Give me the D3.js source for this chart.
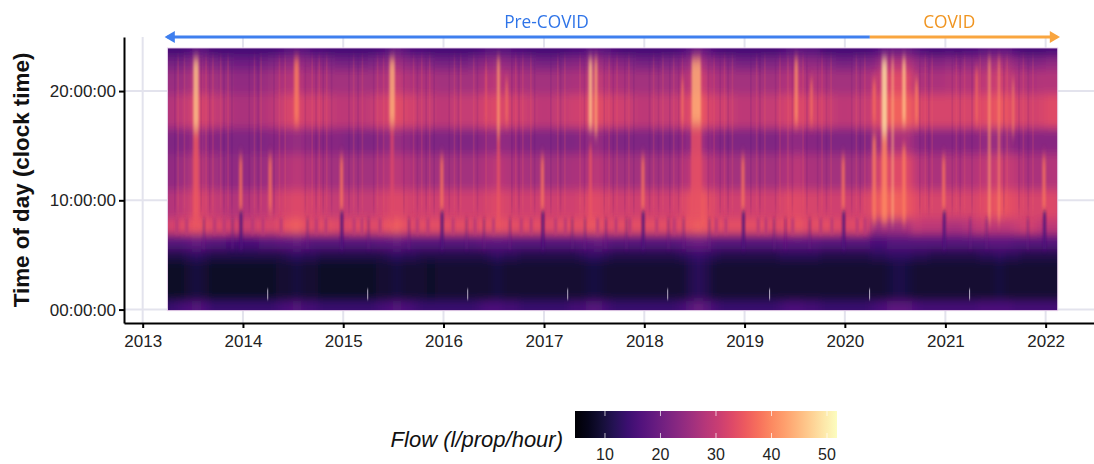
<!DOCTYPE html>
<html>
<head>
  <meta charset="utf-8">
  <title>Flow heatmap</title>
  <style>
    html, body { margin: 0; padding: 0; background: #fff; }
    svg { display: block; }
    text { font-family: "Liberation Sans", Arial, sans-serif; }
  </style>
</head>
<body>
  <svg id="chart" width="1094" height="464"></svg>

  <script src="https://d3js.org/d3.v7.min.js"></script>
  <script>
    // Monthly flow per time-of-day band, Apr 2013 to Feb 2022
    const h23 = [15,15,16,18,17,15,15,15,15,
      15,15,15,15,16,17,18,17,16,16,15,15,
      15,15,15,15,16,17,19,17,16,16,15,15,
      15,15,15,15,16,17,17,17,16,16,15,15,
      15,15,15,16,16,18,18,17,16,15,15,15,
      15,15,15,15,16,18,20,18,16,15,15,15,
      15,15,15,15,16,17,18,17,17,15,15,15,
      15,15,15,16,18,19,19,19,17,16,15,15,
      16,15,16,16,17,18,18,18,16,15,15,15,
      16,16];
    const h22 = [21,21,22,25,23,22,21,21,20,
      20,20,21,22,23,24,25,24,23,23,22,21,
      21,21,21,22,23,24,26,24,23,23,22,21,
      21,21,21,22,23,24,25,24,23,23,22,21,
      21,21,22,23,23,25,26,24,23,23,22,21,
      21,21,22,22,23,25,28,25,23,23,22,21,
      21,21,22,22,23,24,25,24,24,23,22,21,
      21,22,22,23,26,28,28,28,25,24,23,23,
      24,23,24,24,25,26,27,26,24,23,22,23,
      24,24];
    const h21 = [25,25,26,29,27,26,25,25,24,
      24,24,25,26,27,28,29,27,27,27,26,26,
      26,26,26,26,27,28,30,28,27,27,27,26,
      26,26,26,26,27,28,29,28,27,27,26,26,
      26,26,26,27,27,29,30,28,27,27,26,26,
      26,26,26,26,27,29,32,29,27,27,26,26,
      26,26,26,26,27,28,29,27,28,27,26,26,
      26,26,27,28,31,33,33,33,28,27,27,27,
      28,28,28,28,29,30,31,30,28,28,27,28,
      28,28];
    const h18 = [28,29,30,33,31,30,29,28,27,
      27,27,28,29,30,32,33,31,31,31,30,29,
      29,29,29,30,31,32,34,32,31,30,30,29,
      29,30,30,30,31,32,33,32,31,31,30,29,
      29,30,30,31,31,33,34,32,31,31,30,29,
      29,30,30,30,31,33,36,33,31,31,30,29,
      29,29,30,30,31,32,33,31,32,31,30,29,
      29,30,30,31,34,36,36,36,33,32,32,32,
      32,32,32,32,33,34,35,34,32,32,31,32,
      33,33];
    const h15 = [22,22,23,26,24,23,22,22,22,
      22,22,22,23,23,24,25,24,23,23,23,23,
      22,22,22,22,23,24,25,24,23,23,22,22,
      22,22,22,22,23,24,24,24,23,23,22,22,
      22,22,22,22,23,24,25,23,22,22,22,22,
      22,22,22,22,23,24,27,24,23,22,22,22,
      22,22,22,22,23,24,24,23,23,22,22,22,
      22,22,22,24,27,27,27,27,24,23,23,23,
      23,23,23,23,24,25,25,25,23,23,23,23,
      23,23];
    const h12 = [24,25,26,30,27,26,25,24,24,
      24,25,25,26,27,28,29,28,27,27,26,26,
      26,26,26,26,27,28,29,28,27,26,26,26,
      26,26,26,26,27,28,29,28,27,27,26,26,
      26,26,26,27,27,28,29,27,26,26,26,26,
      26,26,26,26,27,29,32,29,27,27,26,26,
      26,26,26,26,27,28,29,27,27,26,26,26,
      26,26,26,29,33,33,33,33,29,28,27,27,
      28,27,28,28,29,30,31,30,29,27,27,27,
      28,28];
    const h09 = [28,29,30,33,31,30,29,28,28,
      28,29,29,30,31,32,33,32,31,31,30,30,
      30,30,30,30,31,32,33,32,31,31,31,31,
      31,31,31,31,31,32,33,32,31,31,31,31,
      31,31,31,31,32,33,33,32,31,31,31,31,
      31,31,31,31,32,34,36,34,32,31,31,31,
      31,31,31,31,32,33,33,32,32,31,31,31,
      31,31,32,34,36,36,36,35,33,32,32,32,
      32,32,32,32,33,34,35,34,33,32,32,32,
      33,32];
    const h07 = [32,33,34,35,34,33,33,32,32,
      31,32,33,32,34,35,36,34,33,34,34,33,
      33,34,34,33,34,35,36,34,33,34,34,34,
      34,34,34,33,34,34,35,34,34,34,34,34,
      33,34,34,34,34,35,35,33,34,34,34,34,
      34,34,34,33,34,35,36,35,34,34,34,34,
      34,34,34,33,34,34,35,33,34,34,34,33,
      33,34,33,25,26,26,26,27,30,29,29,29,
      27,27,28,29,30,29,29,29,30,31,31,29,
      29,29];
    const h06 = [17,17,18,19,18,17,17,16,16,
      16,16,17,17,18,18,19,18,17,17,17,17,
      17,17,17,17,18,18,19,18,17,17,17,17,
      17,17,17,17,18,18,18,18,17,17,17,17,
      17,17,17,17,18,18,19,18,17,17,17,17,
      17,17,17,17,18,19,20,19,17,17,17,17,
      17,17,17,17,18,18,18,18,18,17,17,17,
      17,17,17,16,16,17,17,17,17,17,17,17,
      17,17,17,17,17,18,18,18,17,17,17,17,
      17,17];
    const h05 = [11,11,12,13,12,11,11,11,11,
      11,11,11,11,11,12,13,12,12,11,11,11,
      11,11,11,11,11,12,13,12,12,11,11,11,
      11,11,11,11,11,12,13,12,12,11,11,11,
      11,11,11,11,12,13,13,12,11,11,11,11,
      11,11,11,11,12,13,14,13,12,11,11,11,
      11,11,11,11,12,12,12,12,12,11,11,11,
      11,11,11,12,12,13,13,13,12,12,11,11,
      11,11,11,11,12,12,13,12,12,11,11,11,
      11,11];
    const h03 = [8,8,9,10,9,8,8,8,8,
      8,8,8,8,9,9,10,9,9,8,8,8,
      8,8,8,8,9,9,10,9,9,9,8,9,
      9,9,9,9,9,9,10,9,9,9,9,9,
      9,9,9,9,9,10,10,9,9,9,9,9,
      9,9,9,9,9,11,12,11,9,9,9,9,
      9,9,9,9,9,9,9,9,9,9,9,9,
      9,9,9,9,9,10,11,10,9,9,9,9,
      9,9,9,9,9,9,10,9,9,9,9,9,
      9,9];
    const h00 = [14,15,16,17,16,14,14,14,14,
      14,14,14,14,15,16,17,15,15,14,14,14,
      14,14,14,14,15,16,17,16,15,14,14,14,
      14,14,14,14,15,16,16,15,15,14,14,14,
      14,14,14,15,15,17,17,15,14,14,14,14,
      14,14,14,14,15,17,19,17,15,14,14,14,
      14,14,14,14,15,16,16,15,15,14,14,14,
      14,14,14,15,16,18,18,18,16,15,15,15,
      15,15,15,15,16,16,16,16,15,15,15,15,
      15,15];

    // Where each band starts and stops in the day, bottom to top
    const bandRows = [h00, h03, h05, h06, h07, h09, h12, h15, h18, h21, h22, h23];
    const bandEdges = [-3, 0.8, 4.6, 5.6, 7.0, 8.3, 11, 14.3, 16.7, 19.8, 22, 23.2, 27];

    // Short events: start, end, from hour, to hour, flow
    const heatStreaks = [
      ["2013-07-04","2013-07-24",16.5,23,46], ["2013-07-04","2013-07-24",8,16.5,35],
      ["2014-07-06","2014-07-24",17,23,39], ["2015-06-18","2015-07-08",17,23,44],
      ["2015-06-22","2015-07-04",8,17,33], ["2016-07-14","2016-07-24",16,23,42],
      ["2016-07-14","2016-07-24",8,16,35], ["2016-08-14","2016-08-22",17,21,38],
      ["2016-06-02","2016-06-06",17,22,36], ["2017-06-12","2017-06-26",16.5,23,46],
      ["2017-07-04","2017-07-14",16,23,43], ["2017-06-14","2017-06-24",8,15,35],
      ["2018-05-16","2018-05-24",17,21,38], ["2018-06-22","2018-07-26",17,23,44],
      ["2018-06-20","2018-07-28",8,17,34], ["2019-07-02","2019-07-14",17,23,41],
      ["2019-08-28","2019-09-06",17,21,38], ["2020-04-10","2020-04-24",17,21,37],
      ["2020-04-10","2020-04-24",8,16,39], ["2020-05-14","2020-06-03",16,23,49],
      ["2020-05-14","2020-06-03",8,16,40], ["2020-06-20","2020-06-26",8,23,45],
      ["2020-07-28","2020-08-10",17,23,46], ["2020-07-28","2020-08-10",8,15,39],
      ["2020-09-12","2020-09-24",17,21,39], ["2021-04-20","2021-04-30",17,22,37],
      ["2021-06-06","2021-06-14",8,23,42], ["2021-07-12","2021-07-18",8,23,41],
      ["2021-09-02","2021-09-08",16,21,40]
    ];
    const holidayPeaks = [
      "2013-12-24","2014-04-10","2014-12-26","2015-12-26","2016-12-26",
      "2017-12-27","2018-12-26","2019-12-26","2020-12-26","2021-12-26"
    ];
    const holidayDips = [
      "2013-12-25","2014-12-27","2015-12-27","2016-12-28",
      "2017-12-28","2018-12-28","2019-12-28","2020-12-28","2021-12-28"
    ];
    const shortDips = [
      "2013-08-12","2013-11-24","2014-08-24","2015-04-03","2015-08-28","2016-03-25",
      "2016-05-28","2016-08-30","2017-04-14","2017-05-30","2017-08-14","2017-10-28",
      "2018-03-30","2018-05-24","2018-08-26","2019-04-19","2019-05-30","2019-08-26",
      "2021-04-02","2021-05-31","2021-10-28"
    ];
    // Pink gaps between the peach patches of the morning peak
    const morningGaps = [
      "2013-05-05","2013-06-10","2013-09-20","2013-10-25",
      "2014-02-05","2014-03-15","2014-05-20","2014-09-25","2014-10-30",
      "2015-02-10","2015-03-10","2015-05-15","2015-09-28","2015-11-05",
      "2016-02-05","2016-04-25","2016-07-01","2016-10-10","2016-11-15",
      "2017-02-12","2017-03-20","2017-07-15","2017-09-20","2017-11-10",
      "2018-02-15","2018-04-20","2018-09-20","2018-10-25",
      "2019-02-20","2019-03-20","2019-06-25","2019-10-05","2019-11-15",
      "2020-02-15","2020-03-15"
    ];
    // Thin light and dark lines seen across the daytime part of the map
    const lightLines = [
      "2013-05-10","2013-06-02","2013-08-20","2013-09-14","2013-10-12","2013-11-08",
      "2014-02-12","2014-03-08","2014-05-14","2014-06-04","2014-09-10","2014-10-06","2014-11-02",
      "2015-02-08","2015-03-12","2015-05-06","2015-05-28","2015-09-14","2015-10-14","2015-11-12",
      "2016-02-10","2016-03-04","2016-04-20","2016-06-04","2016-09-20","2016-10-16","2016-11-14",
      "2017-02-20","2017-03-18","2017-05-12","2017-08-26","2017-09-24","2017-11-06",
      "2018-02-04","2018-03-10","2018-04-18","2018-05-20","2018-09-12","2018-10-20","2018-11-18",
      "2019-02-14","2019-03-16","2019-05-10","2019-06-08","2019-08-02","2019-10-10","2019-11-12",
      "2020-02-12","2020-03-14","2020-10-20","2020-11-14",
      "2021-02-10","2021-03-12","2021-05-08","2021-08-14","2021-10-12","2021-11-16"
    ];
    const darkLines = [
      "2013-04-28","2013-08-02","2013-09-02","2013-10-24","2013-11-22","2014-01-24",
      "2014-02-26","2014-04-24","2014-08-16","2014-09-24","2014-10-20","2014-11-20",
      "2015-01-22","2015-02-24","2015-04-22","2015-08-10","2015-09-28","2015-10-30","2015-11-28",
      "2016-01-22","2016-02-24","2016-05-04","2016-09-06","2016-10-02","2016-11-28",
      "2017-01-26","2017-03-02","2017-05-28","2017-08-08","2017-09-10","2017-10-22","2017-11-24",
      "2018-01-20","2018-02-22","2018-04-04","2018-05-06","2018-08-22","2018-10-04","2018-11-02",
      "2019-01-24","2019-02-26","2019-04-24","2019-06-24","2019-08-16","2019-09-24","2019-10-26",
      "2020-01-26","2020-02-26","2020-09-30","2020-11-02",
      "2021-01-26","2021-02-24","2021-04-08","2021-08-02","2021-09-26","2021-10-30"
    ];
    const clockChanges = [
      "2014-03-30","2015-03-29","2016-03-27","2017-03-26",
      "2018-03-25","2019-03-31","2020-03-29","2021-03-28"
    ];

    const yearTicks = [2013,2014,2015,2016,2017,2018,2019,2020,2021,2022];
    const hourTicks = [0, 10, 20];
    const flowTicks = [10, 20, 30, 40, 50];

    const periods = [
      { label: "Pre-COVID", from: "2013-04-01", to: "2020-04-01", line: "#3f7fee", text: "#2f74e8", labelAt: "2017-01-10" },
      { label: "COVID", from: "2020-04-01", to: "2022-02-12", line: "#f9a53f", text: "#f0941f", labelAt: "2021-01-15" }
    ];

    const date = s => new Date(s + "T00:00:00Z");
    const firstMonth = date("2013-04-01");
    const lastDay = date("2022-02-14");

    const svg = d3.select("#chart");

    // Scales
    const x = d3.scaleUtc().domain([date("2012-10-25"), date("2022-06-26")]).range([124, 1094]);
    const y = d3.scaleLinear().domain([-1.23, 24.95]).range([323, 37]);
    const color = d3.scaleSequential(d3.interpolateMagma).domain([4.6, 51.8]);

    const defs = svg.append("defs");
    defs.append("clipPath").attr("id", "panel").append("rect")
      .attr("x", x(firstMonth)).attr("y", y(23.95))
      .attr("width", x(lastDay) - x(firstMonth)).attr("height", y(-0.1) - y(23.95));
    const blur = (id, dev) => defs.append("filter").attr("id", id)
      .attr("filterUnits", "userSpaceOnUse")
      .attr("x", 100).attr("y", 0).attr("width", 1000).attr("height", 360)
      .append("feGaussianBlur").attr("stdDeviation", dev);
    blur("soft", "3.5 5");
    blur("softStreak", "1.3 6");
    blur("softDip", "0.8 2.6");
    blur("softGap", "1.2 2");
    blur("softLine", "0.6 5");
    blur("softMark", "0.4 0.8");

    // Grid
    const grid = svg.append("g").attr("stroke", "#e3e3ed").attr("stroke-width", 2);
    grid.selectAll(".gv").data(yearTicks).enter().append("line")
      .attr("x1", d => x(date(d + "-01-01"))).attr("x2", d => x(date(d + "-01-01")))
      .attr("y1", y.range()[1]).attr("y2", y.range()[0]);
    grid.selectAll(".gh").data(hourTicks).enter().append("line")
      .attr("x1", x.range()[0]).attr("x2", x.range()[1])
      .attr("y1", d => y(d)).attr("y2", d => y(d));

    // Heatmap
    const heat = svg.append("g").attr("clip-path", "url(#panel)").append("g");

    const cells = [];
    bandRows.forEach((row, b) => {
      row.forEach((v, m) => {
        cells.push({
          from: d3.utcMonth.offset(firstMonth, m === 0 ? m - 2 : m),
          to: d3.utcMonth.offset(firstMonth, m === row.length - 1 ? m + 4 : m + 1),
          h0: bandEdges[b], h1: bandEdges[b + 1], v: v
        });
      });
    });
    heat.append("g").attr("filter", "url(#soft)")
      .selectAll(".cell").data(cells).enter().append("rect")
      .attr("shape-rendering", "crispEdges")
      .attr("x", d => x(d.from))
      .attr("width", d => x(d.to) - x(d.from) + 0.5)
      .attr("y", d => y(d.h1))
      .attr("height", d => y(d.h0) - y(d.h1) + 0.5)
      .attr("fill", d => color(d.v));

    const drawSpans = (data, filter) => heat.append("g").attr("filter", `url(#${filter})`)
      .selectAll("rect").data(data).enter().append("rect")
      .attr("x", d => x(d.from))
      .attr("width", d => x(d.to) - x(d.from))
      .attr("y", d => y(d.h1))
      .attr("height", d => y(d.h0) - y(d.h1))
      .attr("fill", d => color(d.v))
      .attr("opacity", d => d.o);

    const around = (s, days, h0, h1, v, o) => ({
      from: d3.utcDay.offset(date(s), -days), to: d3.utcDay.offset(date(s), days), h0, h1, v, o
    });

    drawSpans(lightLines.map(s => around(s, 3, 9, 23, 36, 0.2))
      .concat(darkLines.map(s => around(s, 3, 9, 23, 15, 0.12))), "softLine");
    drawSpans(morningGaps.map(s => around(s, 6, 6.9, 8.4, 28, 0.75)), "softGap");
    drawSpans(heatStreaks.map(s => ({ from: date(s[0]), to: date(s[1]), h0: s[2], h1: s[3], v: s[4], o: 0.8 }))
      .concat(holidayPeaks.map(s => around(s, 6, 9, 14, 38, 0.8))), "softStreak");
    drawSpans(shortDips.map(s => around(s, 3, 5.5, 8.4, 19, 0.65))
      .concat(holidayDips.map(s => around(s, 5, 5.5, 9, 16, 0.9))), "softDip");

    heat.append("g").attr("filter", "url(#softMark)")
      .selectAll(".dst").data(clockChanges).enter().append("rect")
      .attr("x", d => x(date(d)))
      .attr("width", d => x(d3.utcDay.offset(date(d), 4)) - x(date(d)))
      .attr("y", y(1.9))
      .attr("height", y(0.9) - y(1.9))
      .attr("fill", "#a99fb8");

    // Pale edge around the heatmap
    svg.append("rect")
      .attr("x", x(firstMonth)).attr("y", y(23.95))
      .attr("width", x(lastDay) - x(firstMonth)).attr("height", y(-0.1) - y(23.95))
      .attr("fill", "none").attr("stroke", "#ecd6ee").attr("stroke-width", 1);

    // Axes
    const xAxis = svg.append("g").attr("transform", `translate(0,${y.range()[0]})`)
      .call(d3.axisBottom(x)
        .tickValues(yearTicks.map(d => date(d + "-01-01")))
        .tickFormat(d3.utcFormat("%Y"))
        .tickSize(5).tickSizeOuter(0));
    const yAxis = svg.append("g").attr("transform", `translate(${x.range()[0]},0)`)
      .call(d3.axisLeft(y)
        .tickValues(hourTicks)
        .tickFormat(d => String(d).padStart(2, "0") + ":00:00")
        .tickSize(5).tickSizeOuter(0));
    [xAxis, yAxis].forEach(a => {
      a.selectAll("path, line").attr("stroke", "#000").attr("stroke-width", 2);
      a.selectAll("text").attr("font-size", 17).attr("fill", "#222")
        .attr("font-family", "Liberation Sans");
    });
    xAxis.selectAll("text").attr("dy", "0.95em");

    svg.append("text")
      .attr("transform", `translate(29,180) rotate(-90)`)
      .attr("text-anchor", "middle")
      .attr("font-size", 22.4).attr("font-weight", "bold").attr("fill", "#111")
      .text("Time of day (clock time)");

    // Period arrows
    const arrowY = 37;
    periods.forEach(p => {
      svg.append("line")
        .attr("x1", x(date(p.from))).attr("x2", x(date(p.to)))
        .attr("y1", arrowY).attr("y2", arrowY)
        .attr("stroke", p.line).attr("stroke-width", 3.2);
      svg.append("text")
        .attr("x", x(date(p.labelAt))).attr("y", 28)
        .attr("text-anchor", "middle")
        .style("font-family", "'Open Sans'").attr("font-size", 17.3)
        .attr("fill", p.text)
        .text(p.label);
    });
    const head = d3.symbol().type(d3.symbolTriangle).size(60);
    svg.append("path").attr("d", head())
      .attr("transform", `translate(${x(date(periods[0].from)) + 4},${arrowY}) rotate(-90)`)
      .attr("fill", periods[0].line);
    svg.append("path").attr("d", head())
      .attr("transform", `translate(${x(date(periods[1].to)) - 4},${arrowY}) rotate(90)`)
      .attr("fill", periods[1].line);

    // Legend
    const lx = d3.scaleLinear().domain(color.domain()).range([575, 837]);
    const lg = defs.append("linearGradient").attr("id", "ramp");
    d3.range(0, 1.001, 0.05).forEach(t => {
      lg.append("stop").attr("offset", t).attr("stop-color", d3.interpolateMagma(t));
    });
    svg.append("rect").attr("x", 575).attr("y", 411).attr("width", 262).attr("height", 27)
      .attr("fill", "url(#ramp)");
    const legendTicks = svg.append("g");
    legendTicks.selectAll(".t").data(flowTicks).enter().append("line")
      .attr("x1", d => lx(d)).attr("x2", d => lx(d)).attr("y1", 411).attr("y2", 416)
      .attr("stroke", "#fff").attr("stroke-opacity", 0.7);
    legendTicks.selectAll(".b").data(flowTicks).enter().append("line")
      .attr("x1", d => lx(d)).attr("x2", d => lx(d)).attr("y1", 433).attr("y2", 438)
      .attr("stroke", "#fff").attr("stroke-opacity", 0.7);
    legendTicks.selectAll("text").data(flowTicks).enter().append("text")
      .attr("x", d => lx(d)).attr("y", 460)
      .attr("text-anchor", "middle").attr("font-size", 16).attr("fill", "#222")
      .text(d => d);
    svg.append("text")
      .attr("x", 563).attr("y", 447).attr("text-anchor", "end")
      .attr("font-size", 22).attr("font-style", "italic").attr("fill", "#111")
      .text("Flow (l/prop/hour)");
  </script>
</body>
</html>
